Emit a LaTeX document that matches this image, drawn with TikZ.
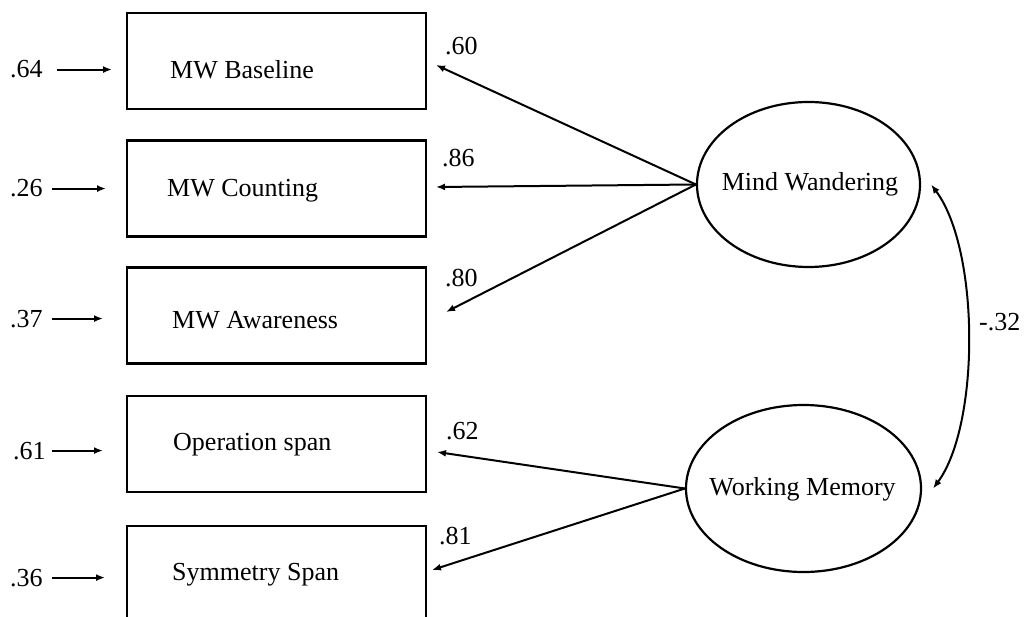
\documentclass[tikz,border=0pt]{standalone}
\usepackage{fontspec}
\setmainfont{Liberation Serif}
\usetikzlibrary{arrows.meta,shapes.geometric}
\begin{document}
\begin{tikzpicture}[x=1pt,y=-1pt,
  box/.style={draw,line width=2.2pt,minimum width=299pt,minimum height=96pt,inner sep=0pt},
  lat/.style={draw,ellipse,line width=2.2pt,inner sep=0pt},
  txt/.style={anchor=base west,inner sep=0pt,font=\fontsize{26}{30}\selectfont},
  ctxt/.style={inner sep=0pt,font=\fontsize{26}{30}\selectfont},
  conn/.style={line width=2pt,-{Latex[length=9pt,width=7pt]}},
  corr/.style={line width=2pt,{Latex[length=9pt,width=7pt]}-{Latex[length=9pt,width=7pt]}}
]
\useasboundingbox (0,0) rectangle (1024,617);
\clip (0,0) rectangle (1024,617);
\fill[white] (0,0) rectangle (1024,617);

% observed variables
\node[box] (b1) at (276.5,61) {};
\node[box] (b2) at (276.5,188.5) {};
\node[box] (b3) at (276.5,315.5) {};
\node[box] (b4) at (276.5,444) {};
\node[box] (b5) at (276.5,574) {};

\node[txt] (t1) at (170,79) {MW Baseline};
\node[txt] (t2) at (167,197) {MW Counting};
\node[txt] (t3) at (172,328) {MW Awareness};
\node[txt] (t4) at (173,450) {Operation span};
\node[txt] (t5) at (172,580) {Symmetry Span};

% error terms
\node[txt] (e1) at (10,78) {.64};
\node[txt] (e2) at (10,197) {.26};
\node[txt] (e3) at (10,327) {.37};
\node[txt] (e4) at (13,459) {.61};
\node[txt] (e5) at (10,586) {.36};

\coordinate (a1) at (112,68);
\coordinate (a2) at (106,188);
\coordinate (a3) at (103,319);
\coordinate (a4) at (103,450);
\coordinate (a5) at (105,577);

\draw[conn] ([xshift=14pt]e1.east) -- (e1.east -| a1);
\draw[conn] ([xshift=9.5pt]e2.east) -- (e2.east -| a2);
\draw[conn] ([xshift=9.5pt]e3.east) -- (e3.east -| a3);
\draw[conn] ([xshift=6.5pt]e4.east) -- (e4.east -| a4);
\draw[conn] ([xshift=9.5pt]e5.east) -- (e5.east -| a5);

% latent variables
\node[lat,minimum width=223pt,minimum height=165pt] (mw) at (808.5,184.5) {};
\node[ctxt] (mwt) at (810,184) {Mind Wandering};
\node[lat,minimum width=235pt,minimum height=167pt] (wm) at (803.5,488.5) {};
\node[ctxt] (wmt) at (802.5,489) {Working Memory};

% loadings
\coordinate (p1) at (436,65);
\coordinate (p2) at (436,187);
\coordinate (p3) at (446,312);
\coordinate (p4) at (437,452);
\coordinate (p5) at (432,570);

\draw[conn] (mw.west) -- (p1);
\draw[conn] (mw.west) -- (p2);
\draw[conn] (mw.west) -- (p3);
\draw[conn] (wm.west) -- (p4);
\draw[conn] (wm.west) -- (p5);

\node[txt] (l1) at (445,55) {.60};
\node[txt] (l2) at (442,167) {.86};
\node[txt] (l3) at (445,287) {.80};
\node[txt] (l4) at (446,439) {.62};
\node[txt] (l5) at (439,544) {.81};

% correlation
\draw[corr] ([xshift=10pt]mw.east) .. controls (980,250) and (980,425) .. ([xshift=11pt]wm.east);
\node[txt] (r) at (979,330) {-.32};
\end{tikzpicture}
\end{document}
